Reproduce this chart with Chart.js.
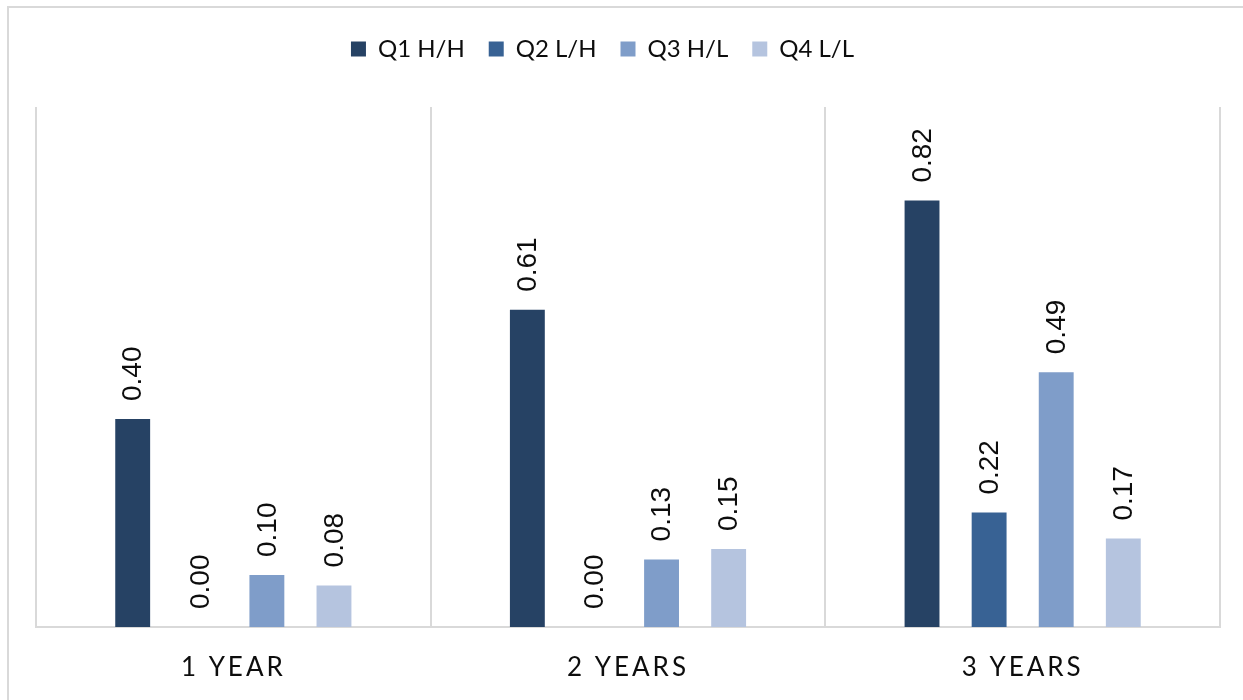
<!DOCTYPE html>
<html>
<head>
<meta charset="utf-8">
<script src="https://cdn.jsdelivr.net/npm/chart.js@4/dist/chart.umd.min.js"></script>
<style>
  html, body { margin: 0; padding: 0; background: #fff; }
  #wrap { position: relative; width: 1243px; height: 700px; overflow: hidden; }
  #frame { position: absolute; left: 7px; top: 6px; width: 1300px; height: 800px; border: 2px solid #d9d9d9; }
  #chart { position: absolute; left: 0; top: 0; }
</style>
</head>
<body>
<div id="wrap">
  <div id="frame"></div>
  <canvas id="chart" width="1243" height="700"></canvas>
</div>
<script>
const categories = ["1 YEAR", "2 YEARS", "3 YEARS"];
const seriesNames = ["Q1 H/H", "Q2 L/H", "Q3 H/L", "Q4 L/L"];
const q1 = [0.40, 0.61, 0.82];
const q2 = [0.00, 0.00, 0.22];
const q3 = [0.10, 0.13, 0.49];
const q4 = [0.08, 0.15, 0.17];

const COLORS = ["#264264", "#386294", "#7f9dc9", "#b5c4df"];
const GRID = "#d9d9d9";

// rotated value labels above each bar
const barLabels = {
  id: "barLabels",
  afterDatasetsDraw(chart) {
    const ctx = chart.ctx;
    ctx.save();
    ctx.font = "28px 'Liberation Sans', Arial, sans-serif";
    ctx.fillStyle = "#0d0d0d";
    ctx.textAlign = "left";
    ctx.textBaseline = "middle";
    chart.data.datasets.forEach((ds, i) => {
      chart.getDatasetMeta(i).data.forEach((bar, j) => {
        ctx.save();
        ctx.translate(bar.x + 1, bar.y - 18);
        ctx.rotate(-Math.PI / 2);
        ctx.fillText(ds.data[j].toFixed(2), 0, 0);
        ctx.restore();
      });
    });
    ctx.restore();
  },
};

// legend: extra room below it, and nudge it left like the original
const legendTweak = {
  id: "legendTweak",
  afterInit(chart) {
    const lg = chart.legend;
    const fit = lg.fit;
    lg.fit = function () { fit.call(this); this.height += 36; };
  },
  afterLayout(chart) {
    chart.legend.left -= 51;
  },
};

// letter-spaced category labels
const spacedTicks = {
  id: "spacedTicks",
  afterLayout(chart) {
    const sx = chart.scales.x;
    if (sx._spaced) return;
    const draw = sx.drawLabels;
    sx.drawLabels = function (area) {
      const ctx = this.ctx;
      ctx.save();
      ctx.letterSpacing = "3px";
      draw.call(this, area);
      ctx.restore();
    };
    sx._spaced = true;
  },
};

new Chart(document.getElementById("chart"), {
  type: "bar",
  data: {
    labels: categories,
    datasets: [q1, q2, q3, q4].map((d, i) => ({
      label: seriesNames[i],
      data: d,
      backgroundColor: COLORS[i],
      borderWidth: 0,
      categoryPercentage: 0.68,
      barPercentage: 0.52,
    })),
  },
  options: {
    responsive: false,
    animation: false,
    layout: { padding: { left: 36, right: 23, top: 13, bottom: 17 } },
    plugins: {
      legend: {
        position: "top",
        labels: {
          boxWidth: 15,
          boxHeight: 15,
          padding: 24,
          color: "#0d0d0d",
          font: { family: "Lato, 'Open Sans', sans-serif", size: 24 },
        },
      },
      tooltip: { enabled: false },
    },
    scales: {
      x: {
        offset: true,
        grid: { offset: true, color: GRID, lineWidth: 2, drawTicks: false },
        border: { display: true, color: GRID, width: 2 },
        ticks: {
          padding: 25,
          color: "#0d0d0d",
          font: { family: "Lato, 'Open Sans', sans-serif", size: 26 },
        },
        afterFit(scale) { scale.height = 56; },
      },
      y: {
        display: false,
        min: 0,
        max: 1.0,
      },
    },
  },
  plugins: [barLabels, legendTweak, spacedTicks],
});
</script>
</body>
</html>
